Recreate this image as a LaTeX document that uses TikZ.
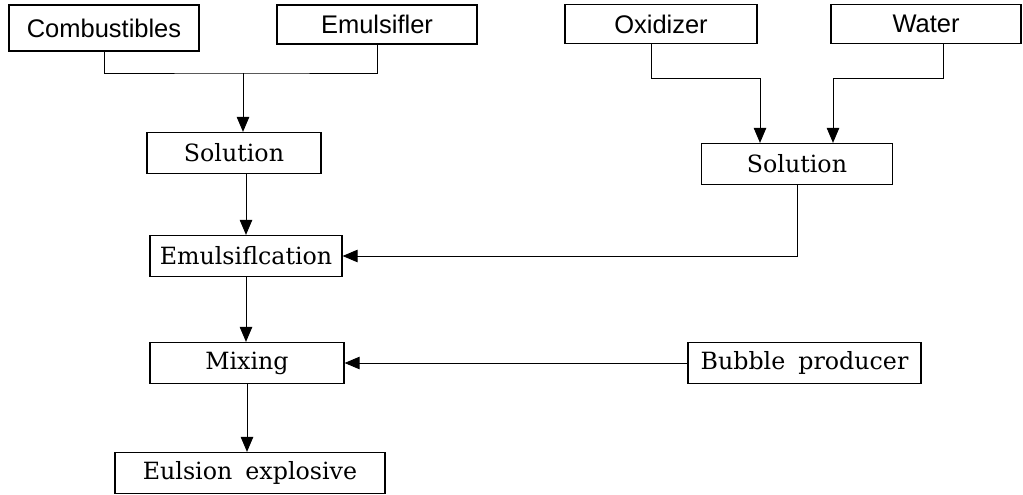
\documentclass[tikz,border=0pt]{standalone}
\usepackage{fontspec}
\usetikzlibrary{arrows.meta}
\newfontfamily\boxsans{Liberation Sans}
\newfontfamily\boxserif{DejaVu Serif}

\tikzset{
  sbox/.style={draw, line width=0.7pt, minimum height=0.78cm, inner sep=0pt,
    font=\boxsans\fontsize{14.5}{16}\selectfont},
  rbox/.style={draw, line width=0.7pt, minimum height=0.82cm, inner sep=0pt,
    font=\boxserif\fontsize{13.5}{16}\selectfont},
  arr/.style={-{Triangle[length=0.3cm,width=0.25cm]}},
}

\begin{document}
\begin{tikzpicture}[line width=0.5pt]
		\useasboundingbox (0,0) rectangle (20.46,-9.9);

		% Raw materials
		\node[sbox, minimum width=3.80cm, minimum height=0.92cm] (comb) at (2.08,-0.56) {Combustibles};
		\node[sbox, minimum width=4.00cm] (emul) at (7.54,-0.49) {Emulsifler};
		\node[sbox, minimum width=3.84cm] (oxid) at (13.22,-0.48) {Oxidizer};
		\node[sbox, minimum width=3.80cm] (water) at (18.52,-0.48) {Water};

		% Process steps
		\node[rbox, minimum width=3.48cm] (solL) at (4.68,-3.06) {Solution};
		\node[rbox, minimum width=3.82cm] (solR) at (15.94,-3.28) {Solution};
		\node[rbox, minimum width=3.84cm] (emulsif) at (4.92,-5.12) {Emulsiflcation};
		\node[rbox, minimum width=3.88cm] (mix) at (4.94,-7.26) {Mixing};
		\node[rbox, minimum width=4.66cm] (bubble) at (16.09,-7.26) {Bubble\hspace{0.55em}producer};
		\node[rbox, minimum width=5.40cm] (expl) at (5.00,-9.46) {Eulsion\hspace{0.55em}explosive};

		% Joints
		\coordinate (j1) at (4.86,-1.46);
		\coordinate (o1) at (15.20,-1.56);
		\coordinate (w1) at (16.66,-1.56);

		% Connectors
		\draw (comb.south) |- (j1) -| (emul.south);
		\draw[arr] (j1) -- (j1 |- solL.north);
		\draw[arr] ([xshift=-0.2cm]oxid.south) |- (o1) -- (o1 |- solR.north);
		\draw[arr] ([xshift=0.34cm]water.south) |- (w1) -- (w1 |- solR.north);
		\draw[arr] (emulsif.north |- solL.south) -- (emulsif.north);
		\draw[arr] (solR.south) |- (emulsif.east);
		\draw[arr] (emulsif.south) -- (emulsif.south |- mix.north);
		\draw[arr] (bubble.west) -- (mix.east);
		\draw[arr] (mix.south) -- (mix.south |- expl.north);
	\end{tikzpicture}
\end{document}
